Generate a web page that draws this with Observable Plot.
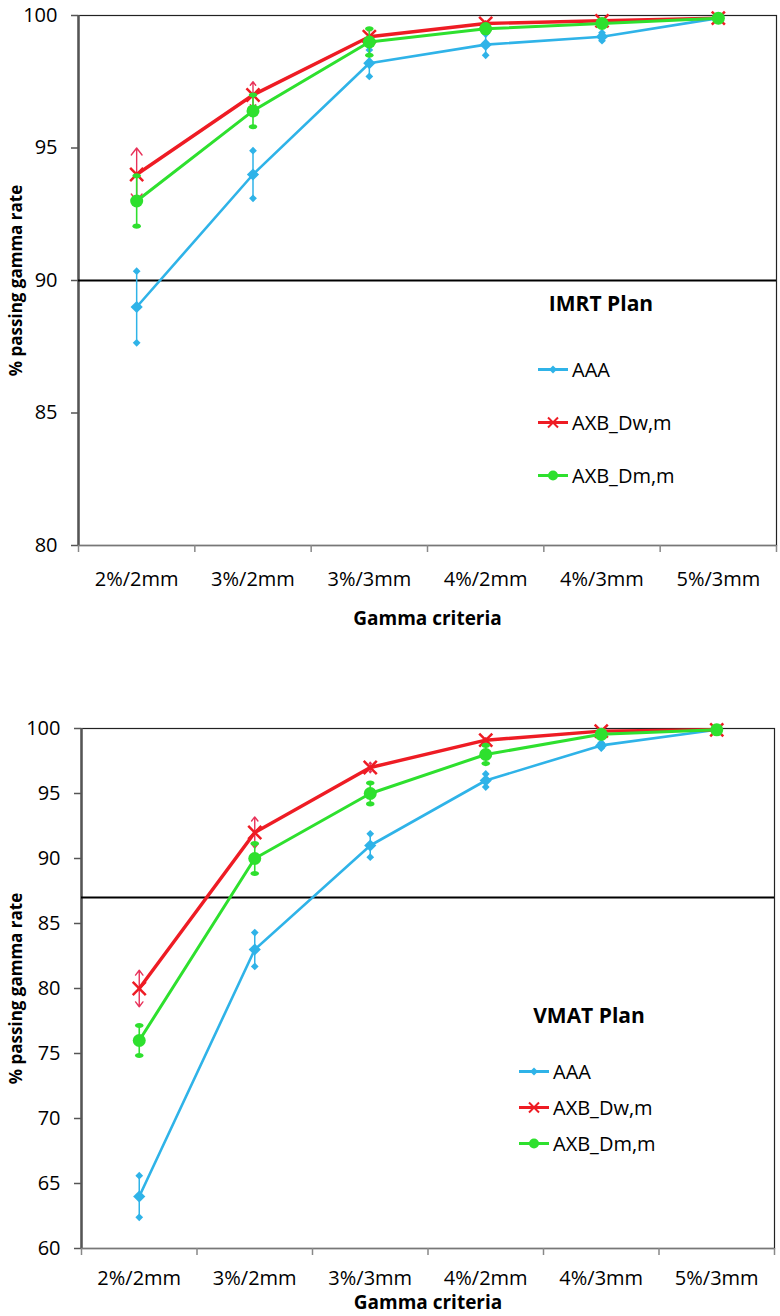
<!DOCTYPE html>
<html><head><meta charset="utf-8">
<script src="https://cdn.jsdelivr.net/npm/d3@7"></script>
<script src="https://cdn.jsdelivr.net/npm/@observablehq/plot@0.6"></script>
<style>
body{margin:0;background:#fff;font-family:"Open Sans",sans-serif;}
#wrap{position:relative;width:780px;height:1316px;overflow:hidden;background:#fff;}
.chart{position:absolute;left:0;}
.legtitle{position:absolute;font-weight:bold;font-size:21px;transform:translate(-50%,-50%);white-space:nowrap;color:#000;}
.row{position:absolute;display:flex;align-items:center;transform:translateY(-50%);white-space:nowrap;font-size:20px;color:#000;}
.row svg{margin-right:4px;}
</style></head><body><div id="wrap"></div>
<script>
// ---- data ----
const criteria = ["2%/2mm", "3%/2mm", "3%/3mm", "4%/2mm", "4%/3mm", "5%/3mm"];
const seriesNames = ["AAA", "AXB_Dw,m", "AXB_Dm,m"];

const imrtAAA    = [89.0, 94.0, 98.2, 98.9, 99.2, 99.9];
const imrtAAAErr = [1.35, 0.9, 0.5, 0.4, 0.15, 0.05];
const imrtDw     = [94.0, 97.0, 99.2, 99.7, 99.8, 99.9];
const imrtDwErr  = [1.0, 0.5, 0.3, 0.1, 0.1, 0.05];
const imrtDm     = [93.0, 96.4, 99.0, 99.5, 99.7, 99.9];
const imrtDmErr  = [0.95, 0.6, 0.5, 0.15, 0.1, 0.05];
const imrtThreshold = 90;
const imrtTicks = [80, 85, 90, 95, 100];

const vmatAAA    = [64.0, 83.0, 91.0, 96.0, 98.7, 99.9];
const vmatAAAErr = [1.6, 1.3, 0.9, 0.5, 0.2, 0.05];
const vmatDw     = [80.0, 92.0, 97.0, 99.1, 99.8, 99.9];
const vmatDwErr  = [1.4, 1.2, 0.4, 0.2, 0.1, 0.05];
const vmatDm     = [76.0, 90.0, 95.0, 98.0, 99.55, 99.9];
const vmatDmErr  = [1.15, 1.15, 0.8, 0.7, 0.2, 0.05];
const vmatThreshold = 87;
const vmatTicks = [60, 65, 70, 75, 80, 85, 90, 95, 100];

// ---- style ----
const BLUE = "#2fb3e8", RED = "#ee1c24", PINK = "#e8325a", GREEN = "#2ee02e";

const ellipse = {
  draw(ctx, size) {
    const s = Math.sqrt(size), rx = s * 0.8, ry = s * 0.48, k = 0.5523;
    ctx.moveTo(rx, 0);
    ctx.bezierCurveTo(rx, ry * k, rx * k, ry, 0, ry);
    ctx.bezierCurveTo(-rx * k, ry, -rx, ry * k, -rx, 0);
    ctx.bezierCurveTo(-rx, -ry * k, -rx * k, -ry, 0, -ry);
    ctx.bezierCurveTo(rx * k, -ry, rx, -ry * k, rx, 0);
    ctx.closePath();
  }
};

function rows(vals, errs) {
  return criteria.map((c, i) => ({c, x: i + 0.5, v: vals[i], lo: vals[i] - errs[i], hi: vals[i] + errs[i]}));
}

function makeChart(o) {
  const A = rows(o.aaa, o.aaaErr), W = rows(o.dw, o.dwErr), M = rows(o.dm, o.dmErr);
  return Plot.plot({
    width: 780, height: o.height,
    marginTop: o.mt, marginBottom: o.mb, marginLeft: o.ml, marginRight: o.mr,
    style: {fontFamily: "Open Sans", fontSize: "20px", color: "#000", background: "#fff", overflow: "visible"},
    x: {domain: [0, criteria.length]},
    y: {domain: [o.ticks[0], o.ticks[o.ticks.length - 1]]},
    marks: [
      Plot.frame({stroke: "#222", strokeWidth: 1.2}),
      Plot.ruleX([0], {stroke: "#555", strokeWidth: 2.5}),
      Plot.ruleY([o.ticks[0]], {stroke: "#777", strokeWidth: 1.5}),
      Plot.ruleY([o.threshold], {stroke: "#000", strokeWidth: 2}),
      Plot.axisY({ticks: o.ticks, tickSize: 7, tickPadding: 14, stroke: "#555", strokeWidth: 1.5, label: null, fontSize: 20, fill: "#000"}),
      Plot.axisX({ticks: d3.range(criteria.length + 1), tickSize: 7, tickFormat: () => "", stroke: "#888", strokeWidth: 1.5, label: null}),
      Plot.axisX({ticks: criteria.map((c, i) => i + 0.5), tickSize: 0, tickPadding: o.labelPad, tickFormat: t => criteria[Math.floor(t)], label: null, fontSize: 20, fill: "#000"}),
      Plot.text(["Gamma criteria"], {frameAnchor: "bottom", lineAnchor: "middle", textAnchor: "middle", dy: o.titleDy, fontWeight: "bold", fontSize: 19, fill: "#000"}),
      Plot.text(["% passing gamma rate"], {frameAnchor: "left", textAnchor: "middle", lineAnchor: "middle", rotate: -90, dx: o.ylabDx, fontWeight: "bold", fontSize: 17, fill: "#000"}),
      // AAA
      Plot.ruleX(A, {x: "x", y1: "lo", y2: "hi", stroke: BLUE, strokeWidth: 1.5}),
      Plot.dot(A, {x: "x", y: "lo", symbol: "diamond2", fill: BLUE, stroke: "none", r: 3.5}),
      Plot.dot(A, {x: "x", y: "hi", symbol: "diamond2", fill: BLUE, stroke: "none", r: 3.5}),
      Plot.line(A, {x: "x", y: "v", stroke: BLUE, strokeWidth: 2.6}),
      Plot.dot(A, {x: "x", y: "v", symbol: "diamond2", fill: BLUE, stroke: "none", r: 5.5}),
      // AXB_Dw,m
      Plot.arrow(W, {x1: "x", x2: "x", y1: "v", y2: "hi", stroke: PINK, strokeWidth: 1.4, headLength: 11, headAngle: 75}),
      Plot.arrow(W, {x1: "x", x2: "x", y1: "v", y2: "lo", stroke: PINK, strokeWidth: 1.4, headLength: 11, headAngle: 75}),
      Plot.line(W, {x: "x", y: "v", stroke: RED, strokeWidth: 3.4}),
      Plot.dot(W, {x: "x", y: "v", symbol: "times", stroke: RED, strokeWidth: 2.5, r: 6}),
      // AXB_Dm,m
      Plot.ruleX(M, {x: "x", y1: "lo", y2: "hi", stroke: GREEN, strokeWidth: 1.6}),
      Plot.dot(M, {x: "x", y: "lo", symbol: ellipse, fill: GREEN, stroke: "none", r: 3}),
      Plot.dot(M, {x: "x", y: "hi", symbol: ellipse, fill: GREEN, stroke: "none", r: 3}),
      Plot.line(M, {x: "x", y: "v", stroke: GREEN, strokeWidth: 3}),
      Plot.dot(M, {x: "x", y: "v", fill: GREEN, stroke: "none", r: 6.5})
    ]
  });
}

function swatch(kind) {
  const colors = [BLUE, RED, GREEN];
  const c = colors[kind];
  let m = "";
  if (kind === 0) m = `<path d="M15,3 L19,7 L15,11 L11,7 Z" fill="${c}"/>`;
  if (kind === 1) m = `<path d="M10,2 L20,12 M20,2 L10,12" stroke="${c}" stroke-width="2"/>`;
  if (kind === 2) m = `<circle cx="15" cy="7" r="5" fill="${c}"/>`;
  return `<svg width="30" height="14" viewBox="0 0 30 14"><line x1="0" y1="7" x2="30" y2="7" stroke="${c}" stroke-width="3"/>${m}</svg>`;
}

const wrap = document.getElementById("wrap");
function place(el, top) { el.classList.add("chart"); el.style.top = top + "px"; wrap.appendChild(el); }

place(makeChart({aaa: imrtAAA, aaaErr: imrtAAAErr, dw: imrtDw, dwErr: imrtDwErr, dm: imrtDm, dmErr: imrtDmErr,
  threshold: imrtThreshold, ticks: imrtTicks, height: 650, mt: 15, mb: 105, ml: 78, mr: 4, labelPad: 26, titleDy: 73, ylabDx: -62}), 0);
place(makeChart({aaa: vmatAAA, aaaErr: vmatAAAErr, dw: vmatDw, dwErr: vmatDwErr, dm: vmatDm, dmErr: vmatDmErr,
  threshold: vmatThreshold, ticks: vmatTicks, height: 666, mt: 78, mb: 68, ml: 81, mr: 6, labelPad: 22, titleDy: 54, ylabDx: -65}), 650);

function legend(title, tx, ty, sx, rowsY) {
  const t = document.createElement("div");
  t.className = "legtitle"; t.textContent = title;
  t.style.left = tx + "px"; t.style.top = ty + "px";
  wrap.appendChild(t);
  seriesNames.forEach((n, i) => {
    const r = document.createElement("div");
    r.className = "row";
    r.style.left = sx + "px"; r.style.top = rowsY[i] + "px";
    r.innerHTML = swatch(i) + `<span>${n}</span>`;
    wrap.appendChild(r);
  });
}
legend("IMRT Plan", 601, 303, 538, [369, 422, 475]);
legend("VMAT Plan", 589, 1015, 519, [1071, 1107, 1143]);
</script></body></html>
